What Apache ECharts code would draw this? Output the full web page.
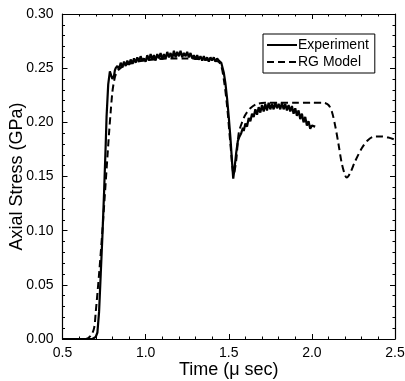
<!DOCTYPE html>
<html>
<head>
<meta charset="utf-8">
<script src="https://cdn.jsdelivr.net/npm/echarts@6/dist/echarts.min.js"></script>
<style>html,body{margin:0;padding:0;background:#fff}#c{width:405px;height:381px}</style>
</head>
<body>
<div id="c"></div>
<script>
// Experiment (solid)
const expT = [0.50,0.60,0.68,0.70,0.71,0.72,0.73,0.74,0.75,0.76,0.765,0.775,0.785,0.79,0.80,0.805,0.81,0.815,0.82,
0.83,0.84,0.85,0.86,0.87,0.88,0.89,0.90,0.91,0.92,0.93,0.94,0.95,0.96,0.97,0.98,0.99,1.00,
1.01,1.02,1.03,1.04,1.05,1.06,1.07,1.08,1.09,1.10,1.11,1.12,1.13,1.14,1.15,1.16,1.17,1.18,1.19,1.20,
1.21,1.22,1.23,1.24,1.25,1.26,1.27,1.28,1.29,1.30,1.31,1.32,1.33,1.34,1.35,1.36,1.37,1.38,1.39,1.40,
1.41,1.42,1.43,1.44,1.45,1.455,1.46,1.47,1.48,1.49,1.50,1.51,1.52,1.527,1.535,1.545,1.555,1.565,1.575,1.585,
1.59,1.60,1.61,1.62,1.63,1.64,1.65,1.66,1.67,1.68,1.69,1.70,1.71,1.72,1.73,1.74,1.75,1.76,1.77,1.78,1.79,1.80,
1.81,1.82,1.83,1.84,1.85,1.86,1.87,1.88,1.89,1.90,1.91,1.92,1.93,1.94,1.95,1.96,1.97,1.98,1.99,2.00,2.02];
const expV = [0.000,0.000,0.000,0.002,0.006,0.025,0.060,0.095,0.135,0.180,0.205,0.235,0.247,0.246,0.240,0.239,0.243,0.248,0.250,
0.252,0.249,0.255,0.251,0.256,0.252,0.257,0.253,0.258,0.254,0.259,0.255,0.260,0.256,0.261,0.257,0.259,0.256,
0.262,0.257,0.263,0.258,0.262,0.257,0.263,0.259,0.264,0.258,0.263,0.259,0.265,0.260,0.264,0.259,0.266,0.260,0.265,0.261,
0.266,0.260,0.264,0.261,0.265,0.260,0.264,0.259,0.262,0.258,0.262,0.258,0.261,0.257,0.261,0.257,0.260,0.256,0.260,0.257,
0.260,0.256,0.259,0.257,0.258,0.255,0.252,0.246,0.236,0.222,0.205,0.186,0.163,0.148,0.158,0.172,0.183,0.187,0.190,0.195,
0.192,0.199,0.196,0.204,0.201,0.208,0.205,0.212,0.207,0.214,0.209,0.216,0.210,0.217,0.211,0.218,0.212,0.217,0.212,0.218,0.213,0.217,
0.212,0.218,0.212,0.217,0.211,0.216,0.210,0.215,0.208,0.213,0.206,0.211,0.203,0.208,0.200,0.205,0.197,0.201,0.194,0.197,0.196];

// RG Model (dashed)
const modT = [0.50,0.64,0.67,0.69,0.70,0.72,0.74,0.76,0.78,0.79,0.80,0.81,0.82,0.84,0.88,0.95,1.05,1.15,1.25,1.35,1.42,1.45,
1.47,1.49,1.51,1.53,1.545,1.56,1.58,1.60,1.63,1.67,1.72,1.80,1.90,2.00,2.07,2.10,2.12,2.14,2.16,2.18,2.20,2.21,
2.23,2.26,2.30,2.34,2.38,2.42,2.46,2.50];
const modV = [0.000,0.000,0.003,0.010,0.025,0.060,0.100,0.145,0.190,0.210,0.228,0.238,0.244,0.249,0.253,0.256,0.258,0.259,0.259,0.258,0.257,0.254,
0.240,0.215,0.180,0.152,0.165,0.190,0.200,0.207,0.213,0.217,0.218,0.218,0.218,0.218,0.218,0.216,0.210,0.197,0.180,0.162,0.151,0.149,
0.153,0.164,0.176,0.184,0.187,0.187,0.186,0.184];

const seriesNames = ['Experiment','RG Model'];
const xTicks = [0.5,1.0,1.5,2.0,2.5];
const yTicks = [0.00,0.05,0.10,0.15,0.20,0.25,0.30];

const zip = (a,b) => a.map((v,i) => [v,b[i]]);
const font = 'Liberation Sans, Arial, sans-serif';
const chart = echarts.init(document.getElementById('c'), null, {renderer:'canvas'});

const axisCommon = {
  axisLine:{show:true,onZero:false,lineStyle:{color:'#000',width:1.2}},
  axisTick:{show:true,inside:true,length:5,lineStyle:{color:'#000',width:1}},
  minorTick:{show:true,splitNumber:5,length:2.5,lineStyle:{color:'#000',width:1}},
  splitLine:{show:false}
};

chart.setOption({
  animation:false,
  backgroundColor:'#fff',
  grid:{left:62.5,right:10,top:14,bottom:42,containLabel:false,outerBoundsMode:'none'},
  legend:{
    data:seriesNames,
    orient:'vertical',
    left:263, top:34,
    itemWidth:30, itemHeight:10, itemGap:3,
    padding:[4,6,4,3],
    borderColor:'#000', borderWidth:1, borderRadius:0,
    textStyle:{fontFamily:font,fontSize:14,color:'#000',padding:[0,0,0,-4]},
    itemStyle:{opacity:0}
  },
  xAxis:[
    Object.assign({type:'value',min:xTicks[0],max:xTicks[xTicks.length-1],interval:0.5,position:'bottom',
      name:'Time (\u03bc sec)',nameLocation:'middle',nameGap:22,nameMoveOverlap:false,
      nameTextStyle:{fontFamily:font,fontSize:18,color:'#000'},
      axisLabel:{fontFamily:font,fontSize:14,color:'#000',margin:7,formatter:v=>v.toFixed(1)}},axisCommon),
    Object.assign({type:'value',min:xTicks[0],max:xTicks[xTicks.length-1],interval:0.5,position:'top',
      axisLabel:{show:false}},axisCommon)
  ],
  yAxis:[
    Object.assign({type:'value',min:yTicks[0],max:yTicks[yTicks.length-1],interval:0.05,position:'left',
      name:'Axial Stress (GPa)',nameLocation:'middle',nameGap:36,nameMoveOverlap:false,
      nameTextStyle:{fontFamily:font,fontSize:18,color:'#000'},
      axisLabel:{fontFamily:font,fontSize:14,color:'#000',margin:9,formatter:v=>v.toFixed(2)}},axisCommon),
    Object.assign({type:'value',min:yTicks[0],max:yTicks[yTicks.length-1],interval:0.05,position:'right',
      axisLabel:{show:false}},axisCommon)
  ],
  series:[
    {name:seriesNames[0],type:'line',data:zip(expT,expV),showSymbol:false,symbol:'none',
      lineStyle:{color:'#000',width:2.2,type:'solid'},itemStyle:{color:'#000'}},
    {name:seriesNames[1],type:'line',data:zip(modT,modV),showSymbol:false,symbol:'none',smooth:0.3,
      lineStyle:{color:'#000',width:2,type:[7,4]},itemStyle:{color:'#000'}}
  ]
});
</script>
</body>
</html>
